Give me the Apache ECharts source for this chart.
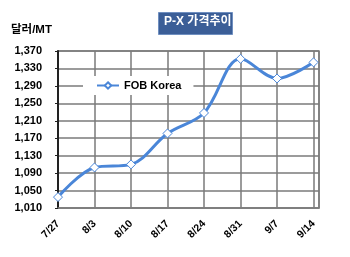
<!DOCTYPE html>
<html>
<head>
<meta charset="utf-8">
<script src="https://cdn.jsdelivr.net/npm/echarts@6/dist/echarts.min.js"></script>
<style>
html,body{margin:0;padding:0;background:#fff;}
#c{width:350px;height:257px;}
</style>
</head>
<body>
<div id="c"></div>
<script>
var categories = ['7/27', '8/3', '8/10', '8/17', '8/24', '8/31', '9/7', '9/14'];
var fobKorea = [1035, 1103, 1110, 1181, 1228, 1352, 1307, 1344];
var yMin = 1010, yMax = 1370, yStep = 40;
var titleText = 'P-X 가격추이';
var unitText = '달러/MT';
var seriesName = 'FOB Korea';

var FONT = '"Liberation Sans", Arial, "Noto Sans CJK KR", sans-serif';
var chart = echarts.init(document.getElementById('c'), null, {renderer: 'canvas'});
var data = fobKorea.map(function (v, i) { return [i, v]; });

chart.setOption({
  animation: false,
  backgroundColor: '#ffffff',
  grid: {
    left: 58, right: 31, top: 51, bottom: 49,
    show: true, borderColor: '#7f7f7f', borderWidth: 1.5, backgroundColor: 'transparent'
  },
  graphic: [
    {
      type: 'rect', left: 158, top: 12, z: 10,
      shape: {width: 74, height: 22},
      style: {fill: '#3b5e97', stroke: '#6f8fc0', lineWidth: 1}
    },
    {
      type: 'text', left: 164, top: 16, z: 11,
      style: {text: titleText, fill: '#ffffff', font: 'bold 12px ' + FONT}
    },
    {
      type: 'text', left: 11, top: 24, z: 11,
      style: {text: unitText, fill: '#000000', font: 'bold 11.5px ' + FONT}
    }
  ],
  legend: {
    data: [seriesName],
    left: 83, top: 76,
    padding: [4, 12, 4, 13],
    backgroundColor: '#ffffff',
    itemWidth: 22, itemHeight: 8, itemGap: 0,
    textStyle: {color: '#000', fontWeight: 'bold', fontSize: 11, fontFamily: FONT}
  },
  xAxis: {
    type: 'value',
    min: 0, max: 7.15, interval: 1,
    axisLine: {show: true, lineStyle: {color: '#7f7f7f', width: 1.5}},
    axisTick: {show: false},
    splitLine: {show: true, lineStyle: {color: '#7a7a7a', width: 1.5}},
    axisLabel: {
      rotate: 45, margin: 14, color: '#000', fontWeight: 'bold', fontSize: 10.5, fontFamily: FONT,
      showMaxLabel: false,
      formatter: function (v) {
        return (Math.abs(v - Math.round(v)) < 1e-6 && categories[Math.round(v)]) ? categories[Math.round(v)] : '';
      }
    }
  },
  yAxis: {
    type: 'value',
    min: yMin, max: yMax, interval: yStep,
    axisLine: {show: true, lineStyle: {color: '#222', width: 2}},
    axisTick: {show: true, length: 3, lineStyle: {color: '#222'}},
    splitLine: {show: true, lineStyle: {color: '#7a7a7a', width: 1.5}},
    axisLabel: {
      margin: 16, color: '#000', fontWeight: 'bold', fontSize: 11, fontFamily: FONT,
      formatter: function (v) { return v.toLocaleString('en-US'); }
    }
  },
  series: [{
    name: seriesName,
    type: 'line',
    data: data,
    smooth: 0.35,
    symbol: 'diamond',
    symbolSize: 9,
    lineStyle: {color: '#4a86d8', width: 3},
    itemStyle: {color: '#ffffff', borderColor: '#4a86d8', borderWidth: 1},
    z: 5
  }]
});
</script>
</body>
</html>
